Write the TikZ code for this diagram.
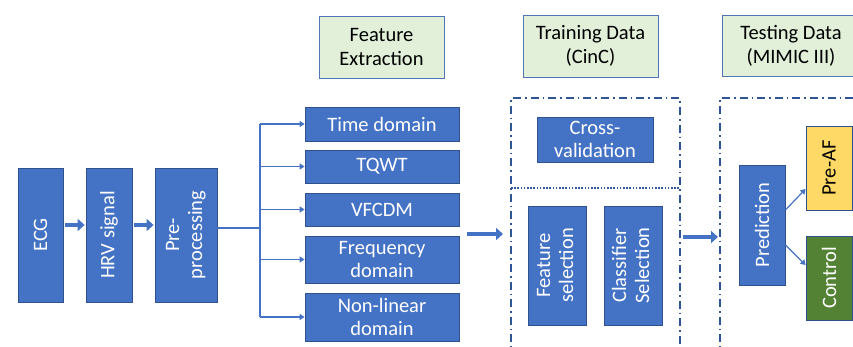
\documentclass[tikz,border=0pt]{standalone}
\usepackage{fontspec}
\setmainfont{Carlito}
\usetikzlibrary{arrows.meta}
\definecolor{boxblue}{HTML}{4472C4}
\definecolor{edgeblue}{HTML}{2F528F}
\definecolor{lgreen}{HTML}{E2F0D9}
\definecolor{dashblue}{HTML}{2F5597}
\definecolor{yel}{HTML}{FFD966}
\definecolor{grn}{HTML}{548235}
\tikzset{
  bbox/.style={draw=edgeblue, fill=boxblue, line width=0.8pt, text=white, align=center, inner sep=0pt,
    font=\fontsize{20.5}{23}\selectfont},
  gbox/.style={draw=boxblue!80!gray, fill=lgreen, line width=0.8pt, text=black, align=center, inner sep=0pt,
    font=\fontsize{20.5}{24}\selectfont},
  blockarrow/.style={draw=boxblue, line width=4.5pt, -{Triangle[length=7pt,width=12pt]}},
  thinarrow/.style={draw=boxblue, line width=1.5pt, -{Triangle[length=5pt,width=6pt]}},
  thinline/.style={draw=boxblue, line width=1.5pt},
  dashdot/.style={draw=dashblue, line width=1.6pt, dash pattern=on 8pt off 4pt on 1.6pt off 4pt},
  dotline/.style={draw=dashblue, line width=1.6pt, dash pattern=on 1.6pt off 1.6pt},
}
\begin{document}
\begin{tikzpicture}[x=1pt,y=-1pt]
\clip (0,0) rectangle (853,347);
\fill[white] (0,0) rectangle (853,347);
% left chain
\node[bbox, minimum width=45pt, minimum height=134pt] (ecg) at (40.5,235) {\rotatebox{90}{ECG}};
\node[bbox, minimum width=46pt, minimum height=134pt] (hrv) at (109,235) {\rotatebox{90}{HRV signal}};
\node[bbox, minimum width=62pt, minimum height=134pt] (pre) at (186,235) {\rotatebox{90}{\begin{tabular}{@{}c@{}}Pre-\\processing\end{tabular}}};
\draw[blockarrow] ([shift={(2,-10)}]ecg.east) -- ([shift={(-1,-10)}]hrv.west);
\draw[blockarrow] ([shift={(2,-10)}]hrv.east) -- ([shift={(-1,-10)}]pre.west);
% feature boxes
\node[gbox, minimum width=125pt, minimum height=62pt] (fe) at (381.5,47) {Feature\\Extraction};
\node[bbox, minimum width=154pt, minimum height=34pt] (td) at (382,124) {Time domain};
\node[bbox, minimum width=154pt, minimum height=33pt] (tq) at (382,166.5) {TQWT};
\node[bbox, minimum width=154pt, minimum height=33pt] (vf) at (382,209.5) {VFCDM};
\node[bbox, minimum width=154pt, minimum height=47pt] (fd) at (382,259.5) {Frequency\\domain};
\node[bbox, minimum width=154pt, minimum height=48pt] (nl) at (382,317) {Non-linear\\domain};
\coordinate (br) at (260,228);
\coordinate (bt) at (260,124);
\coordinate (bb) at (260,317);
\draw[thinline] ([yshift=7pt]pre.east) -- (br);
\draw[thinline] (bt) -- (bb);
\foreach \n in {td,tq,vf,fd,nl} \draw[thinarrow] (bt |- \n.west) -- (\n.west);
\draw[blockarrow] (467,234) coordinate (a1s) -- (503,234) coordinate (a1e);
% training
\node[gbox, minimum width=135pt, minimum height=62pt] (trn) at (590.5,46) {Training Data\\(CinC)};
\coordinate (tl) at (511,98);
\coordinate (tr) at (680,98);
\draw[dashdot] (511,360) -- (tl) -- (tr) -- (680,360);
\draw[dotline] (511,188) -- (680,188);
\node[bbox, minimum width=116pt, minimum height=45pt] (cv) at (595,139.5) {Cross-\\validation};
\node[bbox, minimum width=58pt, minimum height=119pt] (fs) at (557,265.5) {\rotatebox{90}{\begin{tabular}{@{}c@{}}Feature\\selection\end{tabular}}};
\node[bbox, minimum width=58pt, minimum height=119pt] (cs) at (633,265.5) {\rotatebox{90}{\begin{tabular}{@{}c@{}}Classifier\\Selection\end{tabular}}};
\draw[blockarrow] (683,237) -- (718,237);
% testing
\node[gbox, minimum width=138pt, minimum height=61pt] (tst) at (791,45.5) {Testing Data\\(MIMIC III)};
\draw[dashdot] (720,360) -- (720,98) -- (870,98);
\node[bbox, minimum width=46pt, minimum height=120pt] (pred) at (762,225) {\rotatebox{90}{Prediction}};
\node[bbox, draw=edgeblue, fill=yel, text=black, minimum width=46pt, minimum height=84pt] (paf) at (829,168) {\rotatebox{90}{Pre-AF}};
\node[bbox, draw=edgeblue, fill=grn, text=white, minimum width=46pt, minimum height=84pt] (ctl) at (829,278) {\rotatebox{90}{Control}};
\draw[thinarrow, line width=1.2pt] ([yshift=15pt]pred.east) -- ([yshift=-21pt]paf.west);
\draw[thinarrow, line width=1.2pt] ([yshift=-20pt]pred.east) -- ([yshift=13pt]ctl.west);
\end{tikzpicture}
\end{document}
